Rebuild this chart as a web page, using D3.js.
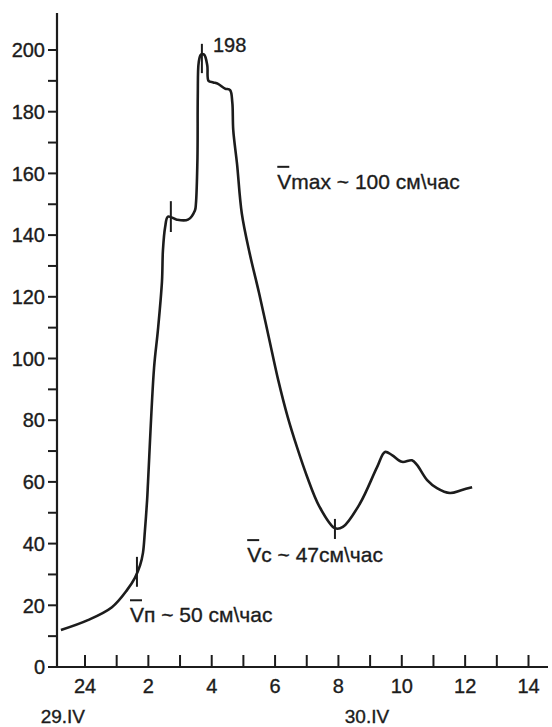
<!DOCTYPE html>
<html>
<head>
<meta charset="utf-8">
<script src="https://cdn.jsdelivr.net/npm/d3@7"></script>
<style>
	body { margin: 0; background: #fff; }
	text { font-family: "Liberation Sans", Arial, sans-serif; fill: #1c1c1c; stroke: #1c1c1c; stroke-width: 0.35px; }
</style>
</head>
<body>
<svg id="chart" width="552" height="727"></svg>
<script>
// hours counted from 24:00 of 29.IV, speed in cm/h
let hours = [-0.76, 0.09, 0.85, 1.33, 1.58, 1.74, 1.83, 1.89, 1.96, 1.99, 2.18, 2.30, 2.43, 2.46, 2.53, 2.62,
	2.90, 3.25, 3.47, 3.50, 3.55, 3.56, 3.59, 3.66, 3.76, 3.86, 3.90, 4.05, 4.20, 4.42, 4.58, 4.65, 4.68,
	4.80, 4.95, 5.20, 5.50, 5.80, 6.10, 6.40, 6.70, 7.00, 7.40, 7.89, 8.14, 8.68, 9.22, 9.47, 9.69,
	10.01, 10.32, 10.48, 10.80, 11.11, 11.52, 11.90, 12.22];
let speed = [12, 15.2, 19.4, 25, 29, 33, 37, 44, 54, 60, 97, 109, 125, 135, 142.6, 146,
	145, 145, 148, 150, 165, 185, 196, 198.5, 198.5, 195, 190, 189.5, 189, 187.5, 187, 183, 174,
	163, 147, 134, 121, 107, 93, 81, 71, 62, 52, 45, 45.4, 53, 64.8, 69.7, 68.7,
	66.5, 67, 65.5, 60.6, 58, 56.4, 57.4, 58.3];

// short vertical marks drawn across the curve
let mark_hour = [1.64, 2.71, 3.69, 7.89],
	mark_lo = [26, 141, 192.5, 41.5],
	mark_hi = [35.7, 151, 202, 48];

let x_major = [0, 2, 4, 6, 8, 10, 12, 14],
	x_labels = ['24', '2', '4', '6', '8', '10', '12', '14'],
	x_minor = [1, 3, 5, 7, 9, 11, 13],
	y_major = [0, 20, 40, 60, 80, 100, 120, 140, 160, 180, 200],
	y_minor = [10, 30, 50, 70, 90, 110, 130, 150, 170, 190];

let day_labels = [{text: '29.IV', hour: -0.7}, {text: '30.IV', hour: 8.9}];

let notes = [
	{bar: 'V', rest: 'max ~ 100 см\\час', hour: 6.07, v: 155},
	{bar: 'V', rest: 'c ~ 47см\\час', hour: 5.12, v: 34},
	{bar: 'V', rest: 'п ~ 50 см\\час', hour: 1.42, v: 14.5}
];

let svg = d3.select('#chart'),
	axis_x = 57,
	axis_y = 667;

let x = d3.scaleLinear()
		.domain([0, 14])
		.range([85, 528.5]),
	y = d3.scaleLinear()
		.domain([0, 200])
		.range([667, 50]);

// axes
svg.append('line')
	.attr('x1', axis_x).attr('x2', axis_x)
	.attr('y1', 13).attr('y2', axis_y + 1)
	.attr('stroke', '#1c1c1c').attr('stroke-width', 2.2);

svg.append('line')
	.attr('x1', axis_x - 1).attr('x2', 548)
	.attr('y1', axis_y).attr('y2', axis_y)
	.attr('stroke', '#1c1c1c').attr('stroke-width', 2.2);

svg.selectAll('.y_tick')
	.data(y_major.concat(y_minor)).enter()
	.append('line')
	.attr('class', 'y_tick')
	.attr('x1', axis_x - 9).attr('x2', axis_x)
	.attr('y1', d => y(d)).attr('y2', d => y(d))
	.attr('stroke', '#1c1c1c').attr('stroke-width', 2);

svg.selectAll('.y_label')
	.data(y_major).enter()
	.append('text')
	.attr('class', 'y_label')
	.attr('x', 45)
	.attr('y', d => y(d))
	.attr('dy', '0.36em')
	.attr('text-anchor', 'end')
	.style('font-size', '20px')
	.text(d => d);

svg.selectAll('.x_tick')
	.data(x_major.concat(x_minor)).enter()
	.append('line')
	.attr('class', 'x_tick')
	.attr('x1', d => x(d)).attr('x2', d => x(d))
	.attr('y1', axis_y - 12).attr('y2', axis_y)
	.attr('stroke', '#1c1c1c').attr('stroke-width', 2);

svg.selectAll('.x_label')
	.data(x_major).enter()
	.append('text')
	.attr('class', 'x_label')
	.attr('x', d => x(d))
	.attr('y', 693)
	.attr('text-anchor', 'middle')
	.style('font-size', '20px')
	.text((d, i) => x_labels[i]);

svg.selectAll('.day_label')
	.data(day_labels).enter()
	.append('text')
	.attr('class', 'day_label')
	.attr('x', d => x(d.hour))
	.attr('y', 723)
	.attr('text-anchor', 'middle')
	.style('font-size', '19px')
	.text(d => d.text);

// curve
let line = d3.line()
	.x((d, i) => x(hours[i]))
	.y(d => y(d))
	.curve(d3.curveCatmullRom.alpha(0.5));

svg.append('path')
	.datum(speed)
	.attr('d', line)
	.attr('fill', 'none')
	.attr('stroke', '#1c1c1c')
	.attr('stroke-width', 2.6)
	.attr('stroke-linejoin', 'round');

svg.selectAll('.mark')
	.data(mark_hour).enter()
	.append('line')
	.attr('class', 'mark')
	.attr('x1', d => x(d)).attr('x2', d => x(d))
	.attr('y1', (d, i) => y(mark_lo[i]))
	.attr('y2', (d, i) => y(mark_hi[i]))
	.attr('stroke', '#1c1c1c').attr('stroke-width', 2);

// peak value
svg.append('text')
	.attr('x', x(3.69) + 11)
	.attr('y', 52)
	.style('font-size', '20px')
	.text('198');

// annotations with a bar over V
let note_g = svg.selectAll('.note')
	.data(notes).enter()
	.append('g')
	.attr('class', 'note')
	.attr('transform', d => `translate(${x(d.hour)}, ${y(d.v)})`);

note_g.append('text')
	.style('font-size', '21px')
	.text(d => d.bar + d.rest);

note_g.append('line')
	.attr('x1', 0).attr('x2', 12)
	.attr('y1', -22).attr('y2', -22)
	.attr('stroke', '#1c1c1c').attr('stroke-width', 2);
</script>
</body>
</html>
